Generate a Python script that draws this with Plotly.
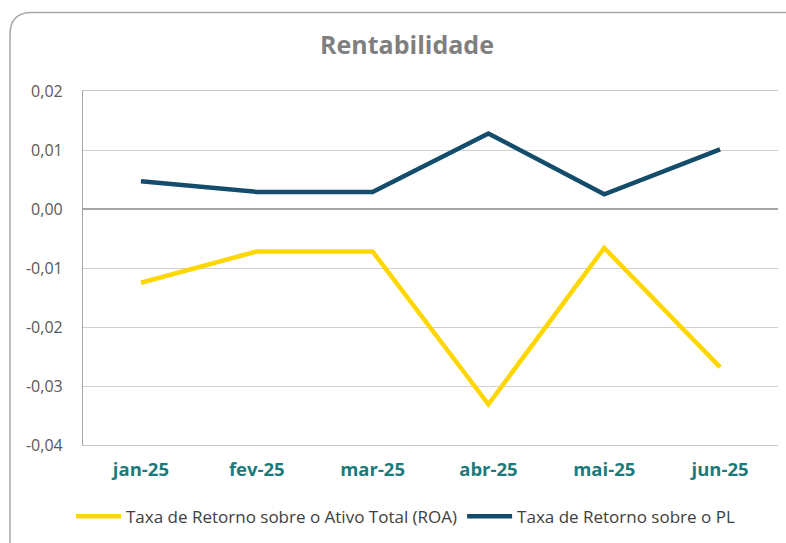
import plotly.graph_objects as go

months = ["jan-25", "fev-25", "mar-25", "abr-25", "mai-25", "jun-25"]
roa = [-0.0125, -0.0072, -0.0072, -0.0331, -0.0066, -0.0268]
roe = [0.0047, 0.0029, 0.0029, 0.0128, 0.0025, 0.0101]
ytick_vals = [0.02, 0.01, 0.0, -0.01, -0.02, -0.03, -0.04]
ytick_text = ["0,02", "0,01", "0,00", "-0,01", "-0,02", "-0,03", "-0,04"]

W, H = 786, 543
L, R, T, B = 83, 8, 91, 96
pw, ph = W - L - R, H - T - B

def px(x):
    return (x - L) / pw

def py(y):
    return (H - B - y) / ph

FONT = "Open Sans, Lato, sans-serif"

fig = go.Figure()
fig.add_trace(go.Scatter(x=months, y=roa, mode="lines",
                         name="Taxa de Retorno sobre o Ativo Total (ROA)",
                         line=dict(color="#FFD700", width=4.5)))
fig.add_trace(go.Scatter(x=months, y=roe, mode="lines",
                         name="Taxa de Retorno sobre o PL",
                         line=dict(color="#134D6B", width=4.5)))

# rounded outer border
x0, y0, x1, y1, r = 10, 12, 792, 548, 22
path = (f"M {px(x0)},{py(y0 + r)} L {px(x0)},{py(y1)} "
        f"M {px(x0)},{py(y0 + r)} Q {px(x0)},{py(y0)} {px(x0 + r)},{py(y0)} "
        f"L {px(x1)},{py(y0)}")
fig.add_shape(type="path", path=path, xref="paper", yref="paper",
              line=dict(color="#a6a6a6", width=1.5), layer="below")

fig.update_layout(
    width=W, height=H,
    margin=dict(l=L, r=R, t=T, b=B),
    paper_bgcolor="white", plot_bgcolor="white",
    font=dict(family=FONT, color="#595959", size=13),
    title=dict(text="<b>Rentabilidade</b>", x=px(407), xanchor="center",
               y=1 - 45 / H, yanchor="middle", xref="paper",
               font=dict(size=25, color="#7f7f7f", family=FONT)),
    showlegend=True,
    legend=dict(orientation="h", x=px(71), xanchor="left",
                y=py(519), yanchor="middle",
                font=dict(size=17, color="#404040", family=FONT),
                itemwidth=45, tracegroupgap=0),
    xaxis=dict(type="category", range=[-0.5, 5.5], showgrid=False,
               showline=True, mirror=True, linecolor="#c8c8c8", linewidth=1.2,
               ticks="",
               tickfont=dict(color="#1b7b7b", size=18.5, family=FONT, weight="bold"),
               ticklabelstandoff=8),
    yaxis=dict(range=[-0.04, 0.02], tickvals=ytick_vals, ticktext=ytick_text,
               showgrid=True, gridcolor="#d0d0d0", gridwidth=1.2,
               zeroline=True, zerolinecolor="#a6a6a6", zerolinewidth=1.5,
               showline=True, linecolor="#a6a6a6", linewidth=1.2,
               ticks="", ticklabelstandoff=16,
               tickfont=dict(size=16, color="#595959", family=FONT)),
)

fig.write_html("out.html", config={"displayModeBar": False},
               post_script="document.body.style.margin='0';document.body.style.padding='0';")
